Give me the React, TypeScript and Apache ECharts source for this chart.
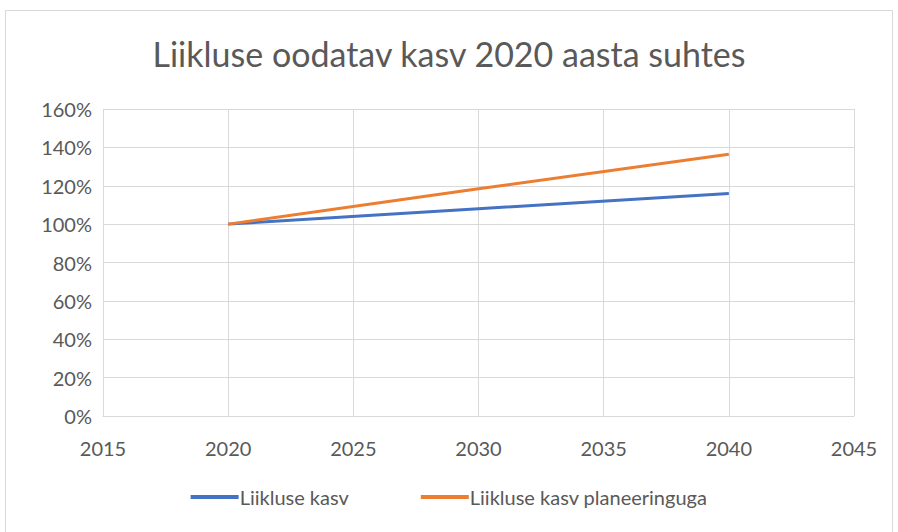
import React, { useEffect, useRef } from "react";
import * as echarts from "echarts";

const years = [2020, 2030, 2040];
const kasv = [100, 108, 115.9];
const planeeringuga = [100, 118.4, 136.4];
const seriesNames = ["Liikluse kasv", "Liikluse kasv planeeringuga"];
const titleText = "Liikluse oodatav kasv 2020 aasta suhtes";

export default function App() {
  const ref = useRef<HTMLDivElement>(null);
  useEffect(() => {
    if (!ref.current) return;
    const chart = echarts.init(ref.current, undefined, { renderer: "svg" });
    const font = "Lato";
    const textColor = "#595959";
    chart.setOption({
      animation: false,
      backgroundColor: "#ffffff",
      title: {
        text: titleText,
        left: "center",
        top: 31,
        textStyle: { fontFamily: font, fontSize: 34, fontWeight: "normal", color: textColor },
      },
      graphic: [
        {
          type: "rect",
          shape: { x: 5.5, y: 10.5, width: 887, height: 530 },
          style: { fill: "none", stroke: "#d9d9d9", lineWidth: 1 },
          silent: true,
        },
      ],
      legend: {
        bottom: 20,
        left: "center",
        itemWidth: 48,
        itemHeight: 4,
        itemGap: 72,
        icon: "rect",
        textStyle: { fontFamily: font, fontSize: 20, color: textColor, padding: [0, 0, 0, -4] },
        data: seriesNames,
      },
      grid: { left: 103, right: 44, top: 109, bottom: 116 },
      xAxis: {
        type: "value",
        min: 2015,
        max: 2045,
        interval: 5,
        axisLine: { show: true, lineStyle: { color: "#d9d9d9", width: 1 } },
        axisTick: { show: false },
        splitLine: { show: true, lineStyle: { color: "#d9d9d9", width: 1 } },
        axisLabel: {
          fontFamily: font,
          fontSize: 20,
          color: textColor,
          margin: 22,
          formatter: (v: number) => String(v),
        },
      },
      yAxis: {
        type: "value",
        min: 0,
        max: 160,
        interval: 20,
        axisLine: { show: false },
        axisTick: { show: false },
        splitLine: { show: true, lineStyle: { color: "#d9d9d9", width: 1 } },
        axisLabel: { fontFamily: font, fontSize: 20, color: textColor, margin: 11, formatter: "{value}%" },
      },
      series: [
        {
          name: seriesNames[0],
          type: "line",
          data: years.map((y, i) => [y, kasv[i]]),
          showSymbol: false,
          lineStyle: { color: "#4472C4", width: 3 },
          itemStyle: { color: "#4472C4" },
        },
        {
          name: seriesNames[1],
          type: "line",
          data: years.map((y, i) => [y, planeeringuga[i]]),
          showSymbol: false,
          lineStyle: { color: "#ED7D31", width: 3 },
          itemStyle: { color: "#ED7D31" },
        },
      ],
    });
    return () => chart.dispose();
  }, []);
  return (
    <div
      ref={ref}
      style={{ position: "absolute", left: 0, top: 0, width: 898, height: 532 }}
    />
  );
}
